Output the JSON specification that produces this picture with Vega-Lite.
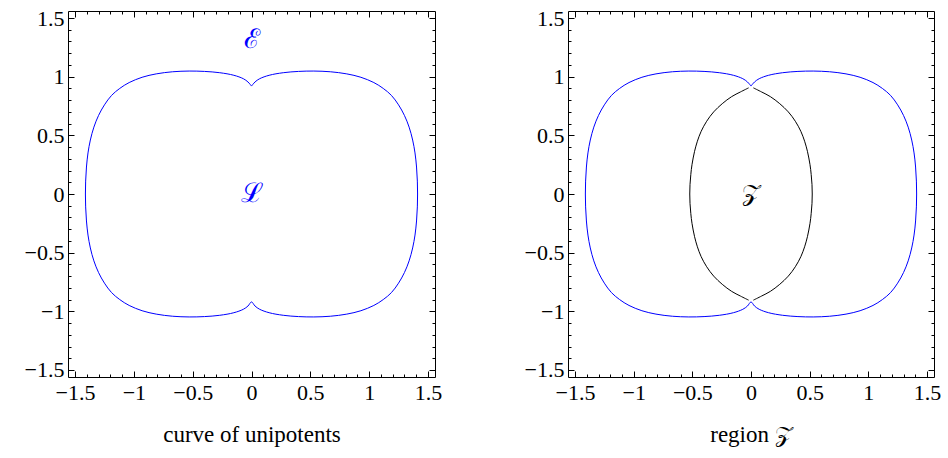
{
  "$schema": "https://vega.github.io/schema/vega-lite/v6.json",
  "padding": {"left": 17, "top": 6, "right": 5, "bottom": 5},
  "spacing": 74,
  "config": {
    "view": {"stroke": "black", "strokeWidth": 1},
    "font": "Liberation Serif",
    "axis": {"domain": false, "grid": false, "tickColor": "black", "tickWidth": 1, "labelFont": "Liberation Serif", "labelFontSize": 22, "labelColor": "black", "titleFont": "Liberation Serif", "titleFontSize": 23, "titleFontWeight": "normal", "titleColor": "black"}
  },
  "datasets": {
    "blue": [
      {"i":0,"x":0,"y":0.92},{"i":1,"x":0.03,"y":0.955},{"i":2,"x":0.07,"y":0.983},{"i":3,"x":0.15,"y":1.012},{"i":4,"x":0.27,"y":1.034},{"i":5,"x":0.4,"y":1.045},{"i":6,"x":0.53,"y":1.048},{"i":7,"x":0.67,"y":1.042},{"i":8,"x":0.81,"y":1.024},{"i":9,"x":0.93,"y":0.995},{"i":10,"x":1.04,"y":0.95},{"i":11,"x":1.12,"y":0.9},{"i":12,"x":1.19,"y":0.84},{"i":13,"x":1.25,"y":0.76},{"i":14,"x":1.3,"y":0.67},{"i":15,"x":1.34,"y":0.57},{"i":16,"x":1.37,"y":0.46},{"i":17,"x":1.39,"y":0.35},{"i":18,"x":1.403,"y":0.23},{"i":19,"x":1.41,"y":0.11},{"i":20,"x":1.412,"y":0},
      {"i":21,"x":1.41,"y":-0.11},{"i":22,"x":1.403,"y":-0.23},{"i":23,"x":1.39,"y":-0.35},{"i":24,"x":1.37,"y":-0.46},{"i":25,"x":1.34,"y":-0.57},{"i":26,"x":1.3,"y":-0.67},{"i":27,"x":1.25,"y":-0.76},{"i":28,"x":1.19,"y":-0.84},{"i":29,"x":1.12,"y":-0.9},{"i":30,"x":1.04,"y":-0.95},{"i":31,"x":0.93,"y":-0.995},{"i":32,"x":0.81,"y":-1.024},{"i":33,"x":0.67,"y":-1.042},{"i":34,"x":0.53,"y":-1.048},{"i":35,"x":0.4,"y":-1.045},{"i":36,"x":0.27,"y":-1.034},{"i":37,"x":0.15,"y":-1.012},{"i":38,"x":0.07,"y":-0.983},{"i":39,"x":0.03,"y":-0.955},{"i":40,"x":0,"y":-0.92},
      {"i":41,"x":-0.03,"y":-0.955},{"i":42,"x":-0.07,"y":-0.983},{"i":43,"x":-0.15,"y":-1.012},{"i":44,"x":-0.27,"y":-1.034},{"i":45,"x":-0.4,"y":-1.045},{"i":46,"x":-0.53,"y":-1.048},{"i":47,"x":-0.67,"y":-1.042},{"i":48,"x":-0.81,"y":-1.024},{"i":49,"x":-0.93,"y":-0.995},{"i":50,"x":-1.04,"y":-0.95},{"i":51,"x":-1.12,"y":-0.9},{"i":52,"x":-1.19,"y":-0.84},{"i":53,"x":-1.25,"y":-0.76},{"i":54,"x":-1.3,"y":-0.67},{"i":55,"x":-1.34,"y":-0.57},{"i":56,"x":-1.37,"y":-0.46},{"i":57,"x":-1.39,"y":-0.35},{"i":58,"x":-1.403,"y":-0.23},{"i":59,"x":-1.41,"y":-0.11},{"i":60,"x":-1.412,"y":0},
      {"i":61,"x":-1.41,"y":0.11},{"i":62,"x":-1.403,"y":0.23},{"i":63,"x":-1.39,"y":0.35},{"i":64,"x":-1.37,"y":0.46},{"i":65,"x":-1.34,"y":0.57},{"i":66,"x":-1.3,"y":0.67},{"i":67,"x":-1.25,"y":0.76},{"i":68,"x":-1.19,"y":0.84},{"i":69,"x":-1.12,"y":0.9},{"i":70,"x":-1.04,"y":0.95},{"i":71,"x":-0.93,"y":0.995},{"i":72,"x":-0.81,"y":1.024},{"i":73,"x":-0.67,"y":1.042},{"i":74,"x":-0.53,"y":1.048},{"i":75,"x":-0.4,"y":1.045},{"i":76,"x":-0.27,"y":1.034},{"i":77,"x":-0.15,"y":1.012},{"i":78,"x":-0.07,"y":0.983},{"i":79,"x":-0.03,"y":0.955},{"i":80,"x":0,"y":0.92}
    ],
    "lens": [
      {"arc":"R","i":0,"x":0.02,"y":0.905},{"arc":"R","i":1,"x":0.09,"y":0.87},{"arc":"R","i":2,"x":0.165,"y":0.83},{"arc":"R","i":3,"x":0.245,"y":0.77},{"arc":"R","i":4,"x":0.318,"y":0.7},{"arc":"R","i":5,"x":0.378,"y":0.62},{"arc":"R","i":6,"x":0.425,"y":0.534},{"arc":"R","i":7,"x":0.457,"y":0.45},{"arc":"R","i":8,"x":0.481,"y":0.364},{"arc":"R","i":9,"x":0.503,"y":0.25},{"arc":"R","i":10,"x":0.513,"y":0.167},{"arc":"R","i":11,"x":0.52,"y":0.08},{"arc":"R","i":12,"x":0.522,"y":0},{"arc":"R","i":13,"x":0.52,"y":-0.08},{"arc":"R","i":14,"x":0.513,"y":-0.167},{"arc":"R","i":15,"x":0.503,"y":-0.25},{"arc":"R","i":16,"x":0.481,"y":-0.364},{"arc":"R","i":17,"x":0.457,"y":-0.45},{"arc":"R","i":18,"x":0.425,"y":-0.534},{"arc":"R","i":19,"x":0.378,"y":-0.62},{"arc":"R","i":20,"x":0.318,"y":-0.7},{"arc":"R","i":21,"x":0.245,"y":-0.77},{"arc":"R","i":22,"x":0.165,"y":-0.83},{"arc":"R","i":23,"x":0.09,"y":-0.87},{"arc":"R","i":24,"x":0.02,"y":-0.905},
      {"arc":"L","i":0,"x":-0.02,"y":0.905},{"arc":"L","i":1,"x":-0.09,"y":0.87},{"arc":"L","i":2,"x":-0.165,"y":0.83},{"arc":"L","i":3,"x":-0.245,"y":0.77},{"arc":"L","i":4,"x":-0.318,"y":0.7},{"arc":"L","i":5,"x":-0.378,"y":0.62},{"arc":"L","i":6,"x":-0.425,"y":0.534},{"arc":"L","i":7,"x":-0.457,"y":0.45},{"arc":"L","i":8,"x":-0.481,"y":0.364},{"arc":"L","i":9,"x":-0.503,"y":0.25},{"arc":"L","i":10,"x":-0.513,"y":0.167},{"arc":"L","i":11,"x":-0.52,"y":0.08},{"arc":"L","i":12,"x":-0.522,"y":0},{"arc":"L","i":13,"x":-0.52,"y":-0.08},{"arc":"L","i":14,"x":-0.513,"y":-0.167},{"arc":"L","i":15,"x":-0.503,"y":-0.25},{"arc":"L","i":16,"x":-0.481,"y":-0.364},{"arc":"L","i":17,"x":-0.457,"y":-0.45},{"arc":"L","i":18,"x":-0.425,"y":-0.534},{"arc":"L","i":19,"x":-0.378,"y":-0.62},{"arc":"L","i":20,"x":-0.318,"y":-0.7},{"arc":"L","i":21,"x":-0.245,"y":-0.77},{"arc":"L","i":22,"x":-0.165,"y":-0.83},{"arc":"L","i":23,"x":-0.09,"y":-0.87},{"arc":"L","i":24,"x":-0.02,"y":-0.905}
    ],
    "labL": [{"x":0,"y":1.31,"t":"ℰ"},{"x":0,"y":0,"t":"ℒ"}],
    "labR": [{"x":0,"y":0,"t":"𝒵"}]
  },
  "hconcat": [
    {
      "width": 367, "height": 366,
      "resolve": {"axis": {"x": "independent", "y": "independent"}},
      "layer": [
        {
          "data": {"name": "blue"},
          "mark": {"type": "line", "color": "#0000ff", "strokeWidth": 1, "interpolate": "catmull-rom"},
          "encoding": {
            "order": {"field": "i", "type": "quantitative"},
            "x": {"field": "x", "type": "quantitative", "scale": {"domain": [-1.56, 1.56], "nice": false, "zero": false}, "axis": {"orient": "bottom", "values": [-1.5,-1,-0.5,0,0.5,1,1.5], "format": "~g", "tickSize": -6, "labelPadding": 11, "title": "curve of unipotents", "titlePadding": 20}},
            "y": {"field": "y", "type": "quantitative", "scale": {"domain": [-1.56, 1.56], "nice": false, "zero": false}, "axis": {"orient": "left", "values": [-1.5,-1,-0.5,0,0.5,1,1.5], "format": "~g", "tickSize": -6, "labelPadding": 10, "title": null, "minExtent": 50, "maxExtent": 50}}
          }
        },
        {
          "data": {"name": "labL"},
          "mark": {"type": "text", "color": "#0000ff", "font": "DejaVu Serif", "fontSize": 27, "baseline": "middle", "align": "center"},
          "encoding": {
            "text": {"field": "t"},
            "x": {"field": "x", "type": "quantitative", "axis": {"orient": "top", "values": [-1.5,-1,-0.5,0,0.5,1,1.5], "tickSize": -6, "labels": false, "title": null, "minExtent": 0, "maxExtent": 0}},
            "y": {"field": "y", "type": "quantitative", "axis": {"orient": "right", "values": [-1.5,-1,-0.5,0,0.5,1,1.5], "tickSize": -6, "labels": false, "title": null, "minExtent": 0, "maxExtent": 0}}
          }
        },
        {
          "data": {"name": "blue"},
          "mark": {"type": "point", "opacity": 0},
          "encoding": {
            "x": {"field": "x", "type": "quantitative", "axis": {"orient": "bottom", "values": [-1.5,-1.4,-1.3,-1.2,-1.1,-1,-0.9,-0.8,-0.7,-0.6,-0.5,-0.4,-0.3,-0.2,-0.1,0,0.1,0.2,0.3,0.4,0.5,0.6,0.7,0.8,0.9,1,1.1,1.2,1.3,1.4,1.5], "tickSize": -3, "labels": false, "title": null, "minExtent": 0, "maxExtent": 0}},
            "y": {"field": "y", "type": "quantitative", "axis": {"orient": "left", "values": [-1.5,-1.4,-1.3,-1.2,-1.1,-1,-0.9,-0.8,-0.7,-0.6,-0.5,-0.4,-0.3,-0.2,-0.1,0,0.1,0.2,0.3,0.4,0.5,0.6,0.7,0.8,0.9,1,1.1,1.2,1.3,1.4,1.5], "tickSize": -3, "labels": false, "title": null, "minExtent": 0, "maxExtent": 0}}
          }
        },
        {
          "data": {"name": "blue"},
          "mark": {"type": "point", "opacity": 0},
          "encoding": {
            "x": {"field": "x", "type": "quantitative", "axis": {"orient": "top", "values": [-1.5,-1.4,-1.3,-1.2,-1.1,-1,-0.9,-0.8,-0.7,-0.6,-0.5,-0.4,-0.3,-0.2,-0.1,0,0.1,0.2,0.3,0.4,0.5,0.6,0.7,0.8,0.9,1,1.1,1.2,1.3,1.4,1.5], "tickSize": -3, "labels": false, "title": null, "minExtent": 0, "maxExtent": 0}},
            "y": {"field": "y", "type": "quantitative", "axis": {"orient": "right", "values": [-1.5,-1.4,-1.3,-1.2,-1.1,-1,-0.9,-0.8,-0.7,-0.6,-0.5,-0.4,-0.3,-0.2,-0.1,0,0.1,0.2,0.3,0.4,0.5,0.6,0.7,0.8,0.9,1,1.1,1.2,1.3,1.4,1.5], "tickSize": -3, "labels": false, "title": null, "minExtent": 0, "maxExtent": 0}}
          }
        }
      ]
    },
    {
      "width": 366, "height": 366,
      "resolve": {"axis": {"x": "independent", "y": "independent"}},
      "layer": [
        {
          "data": {"name": "blue"},
          "mark": {"type": "line", "color": "#0000ff", "strokeWidth": 1, "interpolate": "catmull-rom"},
          "encoding": {
            "order": {"field": "i", "type": "quantitative"},
            "x": {"field": "x", "type": "quantitative", "scale": {"domain": [-1.56, 1.56], "nice": false, "zero": false}, "axis": {"orient": "bottom", "values": [-1.5,-1,-0.5,0,0.5,1,1.5], "format": "~g", "tickSize": -6, "labelPadding": 11, "title": "region 𝒵", "titlePadding": 20}},
            "y": {"field": "y", "type": "quantitative", "scale": {"domain": [-1.56, 1.56], "nice": false, "zero": false}, "axis": {"orient": "left", "values": [-1.5,-1,-0.5,0,0.5,1,1.5], "format": "~g", "tickSize": -6, "labelPadding": 10, "title": null, "minExtent": 50, "maxExtent": 50}}
          }
        },
        {
          "data": {"name": "lens"},
          "mark": {"type": "line", "color": "black", "strokeWidth": 1, "interpolate": "catmull-rom"},
          "encoding": {
            "detail": {"field": "arc"},
            "order": {"field": "i", "type": "quantitative"},
            "x": {"field": "x", "type": "quantitative", "axis": {"orient": "top", "values": [-1.5,-1,-0.5,0,0.5,1,1.5], "tickSize": -6, "labels": false, "title": null, "minExtent": 0, "maxExtent": 0}},
            "y": {"field": "y", "type": "quantitative", "axis": {"orient": "right", "values": [-1.5,-1,-0.5,0,0.5,1,1.5], "tickSize": -6, "labels": false, "title": null, "minExtent": 0, "maxExtent": 0}}
          }
        },
        {
          "data": {"name": "labR"},
          "mark": {"type": "text", "color": "black", "font": "DejaVu Serif", "fontSize": 24, "baseline": "middle", "align": "center"},
          "encoding": {
            "text": {"field": "t"},
            "x": {"field": "x", "type": "quantitative", "axis": {"orient": "bottom", "values": [-1.5,-1.4,-1.3,-1.2,-1.1,-1,-0.9,-0.8,-0.7,-0.6,-0.5,-0.4,-0.3,-0.2,-0.1,0,0.1,0.2,0.3,0.4,0.5,0.6,0.7,0.8,0.9,1,1.1,1.2,1.3,1.4,1.5], "tickSize": -3, "labels": false, "title": null, "minExtent": 0, "maxExtent": 0}},
            "y": {"field": "y", "type": "quantitative", "axis": {"orient": "left", "values": [-1.5,-1.4,-1.3,-1.2,-1.1,-1,-0.9,-0.8,-0.7,-0.6,-0.5,-0.4,-0.3,-0.2,-0.1,0,0.1,0.2,0.3,0.4,0.5,0.6,0.7,0.8,0.9,1,1.1,1.2,1.3,1.4,1.5], "tickSize": -3, "labels": false, "title": null, "minExtent": 0, "maxExtent": 0}}
          }
        },
        {
          "data": {"name": "blue"},
          "mark": {"type": "point", "opacity": 0},
          "encoding": {
            "x": {"field": "x", "type": "quantitative", "axis": {"orient": "top", "values": [-1.5,-1.4,-1.3,-1.2,-1.1,-1,-0.9,-0.8,-0.7,-0.6,-0.5,-0.4,-0.3,-0.2,-0.1,0,0.1,0.2,0.3,0.4,0.5,0.6,0.7,0.8,0.9,1,1.1,1.2,1.3,1.4,1.5], "tickSize": -3, "labels": false, "title": null, "minExtent": 0, "maxExtent": 0}},
            "y": {"field": "y", "type": "quantitative", "axis": {"orient": "right", "values": [-1.5,-1.4,-1.3,-1.2,-1.1,-1,-0.9,-0.8,-0.7,-0.6,-0.5,-0.4,-0.3,-0.2,-0.1,0,0.1,0.2,0.3,0.4,0.5,0.6,0.7,0.8,0.9,1,1.1,1.2,1.3,1.4,1.5], "tickSize": -3, "labels": false, "title": null, "minExtent": 0, "maxExtent": 0}}
          }
        }
      ]
    }
  ]
}
